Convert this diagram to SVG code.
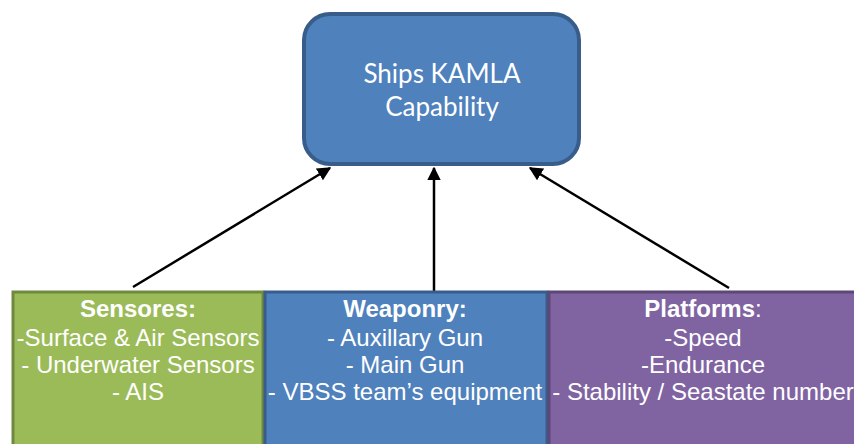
<svg xmlns="http://www.w3.org/2000/svg" width="854" height="444" viewBox="0 0 854 444">
<defs>
<marker id="ah" viewBox="0 0 10 10" refX="9" refY="5" markerWidth="5.5" markerHeight="5.5" orient="auto" markerUnits="strokeWidth">
<path d="M0,0 L10,5 L0,10 z" fill="#000"/>
</marker>
<style>
.top{font-family:Lato,"Open Sans","Liberation Sans",sans-serif;font-size:26px;fill:#fff;text-anchor:middle}
.lbl{font-family:"Liberation Sans",Arial,sans-serif;font-size:24px;fill:#fff;text-anchor:middle}
.b{font-weight:bold}
.conn{stroke:#000;stroke-width:2.5;fill:none;marker-end:url(#ah)}
</style>
</defs>
<rect width="854" height="444" fill="#fff"/>
<g id="connectors">
<line class="conn" x1="133" y1="287" x2="330" y2="168"/>
<line class="conn" x1="434" y1="292" x2="434" y2="168"/>
<line class="conn" x1="729" y1="288" x2="530" y2="168"/>
</g>
<g id="kamla">
<rect x="304" y="14" width="275" height="150" rx="26" ry="26" fill="#4F81BD" stroke="#385D8A" stroke-width="4"/>
<text class="top" x="442" y="83">Ships KAMLA</text>
<text class="top" x="442" y="116">Capability</text>
</g>
<g id="sensores">
<rect x="13" y="292" width="250" height="160" fill="#9BBB59" stroke="#71893F" stroke-width="3"/>
<text class="lbl b" x="138" y="317">Sensores:</text>
<text class="lbl" x="138" y="346">-Surface &amp; Air Sensors</text>
<text class="lbl" x="138" y="373">- Underwater Sensors</text>
<text class="lbl" x="138" y="400">- AIS</text>
</g>
<g id="weaponry">
<rect x="265" y="292" width="282" height="160" fill="#4F81BD" stroke="#385D8A" stroke-width="3"/>
<text class="lbl b" x="405" y="317">Weaponry:</text>
<text class="lbl" x="405" y="346">- Auxillary Gun</text>
<text class="lbl" x="405" y="373">- Main Gun</text>
<text class="lbl" x="405" y="400">- VBSS team’s equipment</text>
</g>
<g id="platforms">
<rect x="549" y="292" width="312" height="160" fill="#8064A2" stroke="#5C4776" stroke-width="3"/>
<text class="lbl" x="703" y="317"><tspan class="b">Platforms</tspan>:</text>
<text class="lbl" x="703" y="346">-Speed</text>
<text class="lbl" x="703" y="373">-Endurance</text>
<text class="lbl" x="703" y="400">- Stability / Seastate number</text>
</g>
</svg>
